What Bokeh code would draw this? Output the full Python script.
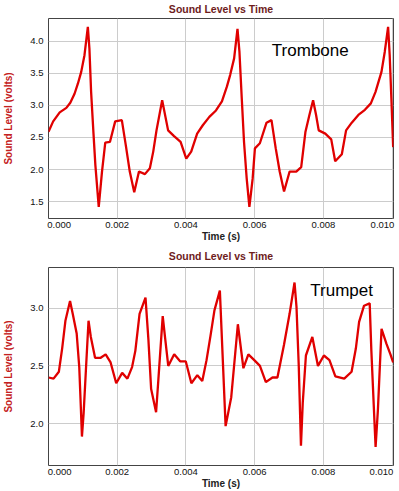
from bokeh.plotting import figure
from bokeh.models import Range1d, FixedTicker, Label
from bokeh.layouts import column
from bokeh.embed import file_html
from bokeh.resources import INLINE

# ---------------- data ----------------
trombone_time_ms = [0, 0.136, 0.326, 0.519, 0.634, 0.758, 0.857, 0.952, 1.047, 1.145,
                    1.191, 1.240, 1.306, 1.364, 1.462, 1.557, 1.652, 1.788, 1.941, 2.134,
                    2.249, 2.365, 2.495, 2.633, 2.806, 2.950, 3.048, 3.143, 3.308, 3.481,
                    3.654, 3.844, 4.009, 4.153, 4.326, 4.490, 4.681, 4.874, 5.047, 5.191,
                    5.286, 5.402, 5.500, 5.557, 5.624, 5.690, 5.768, 5.846, 5.941, 6.007,
                    6.151, 6.345, 6.489, 6.613, 6.728, 6.855, 7.017, 7.210, 7.354, 7.478,
                    7.593, 7.700, 7.787, 7.864, 8.055, 8.228, 8.343, 8.536, 8.660, 8.825,
                    9.018, 9.208, 9.381, 9.517, 9.690, 9.785, 9.883, 9.929, 9.978, 10.03]
trombone_volts = [2.59, 2.75, 2.89, 2.96, 3.04, 3.18, 3.34, 3.52, 3.78, 4.22,
                  3.88, 3.21, 2.59, 2.07, 1.42, 1.97, 2.42, 2.43, 2.75, 2.77,
                  2.38, 1.97, 1.65, 1.97, 1.93, 2.02, 2.28, 2.61, 3.08, 2.61,
                  2.52, 2.43, 2.17, 2.28, 2.56, 2.69, 2.82, 2.92, 3.06, 3.29,
                  3.47, 3.73, 4.19, 3.83, 3.11, 2.43, 1.86, 1.42, 1.86, 2.33,
                  2.41, 2.73, 2.77, 2.33, 1.97, 1.66, 1.97, 1.97, 2.04, 2.59,
                  2.85, 3.08, 2.85, 2.61, 2.56, 2.47, 2.13, 2.24, 2.61, 2.73,
                  2.85, 2.93, 3.03, 3.21, 3.52, 3.83, 4.22, 3.78, 3.11, 2.35]

trumpet_time_ms = [0, 0.147, 0.302, 0.397, 0.492, 0.627, 0.705, 0.820, 0.895, 0.944,
                   0.973, 1.022, 1.088, 1.165, 1.232, 1.355, 1.519, 1.663, 1.807, 1.971,
                   2.144, 2.296, 2.432, 2.527, 2.650, 2.823, 2.909, 2.987, 3.131, 3.197,
                   3.324, 3.390, 3.485, 3.658, 3.830, 3.994, 4.158, 4.331, 4.475, 4.599,
                   4.714, 4.829, 4.987, 5.154, 5.318, 5.511, 5.672, 5.816, 5.988, 6.153,
                   6.325, 6.518, 6.662, 6.852, 7.016, 7.160, 7.217, 7.283, 7.347, 7.399,
                   7.491, 7.678, 7.842, 8.014, 8.176, 8.348, 8.607, 8.820, 8.944, 9.039,
                   9.183, 9.347, 9.396, 9.471, 9.519, 9.586, 9.692, 9.836, 9.951, 10.03]
trumpet_volts = [2.40, 2.39, 2.45, 2.65, 2.89, 3.06, 2.95, 2.78, 2.49, 2.12,
                 1.89, 2.09, 2.46, 2.89, 2.75, 2.57, 2.57, 2.60, 2.53, 2.35,
                 2.44, 2.39, 2.49, 2.63, 2.95, 3.09, 2.72, 2.30, 2.10, 2.38,
                 2.93, 2.75, 2.50, 2.60, 2.54, 2.54, 2.35, 2.42, 2.37, 2.55,
                 2.76, 2.98, 3.15, 1.98, 2.23, 2.86, 2.48, 2.60, 2.55, 2.50,
                 2.36, 2.40, 2.40, 2.68, 2.95, 3.22, 3.01, 2.50, 1.81, 2.18,
                 2.59, 2.75, 2.50, 2.59, 2.55, 2.41, 2.39, 2.45, 2.65, 2.88,
                 3.02, 3.04, 2.63, 2.12, 1.80, 2.12, 2.82, 2.69, 2.60, 2.53]

x_ticks = [0.0, 0.002, 0.004, 0.006, 0.008, 0.010]
x_tick_labels = ["0.000", "0.002", "0.004", "0.006", "0.008", "0.010"]
trombone_y_ticks = [1.5, 2.0, 2.5, 3.0, 3.5, 4.0]
trombone_y_labels = ["1.5", "2.0", "2.5", "3.0", "3.5", "4.0"]
trumpet_y_ticks = [2.0, 2.5, 3.0]
trumpet_y_labels = ["2.0", "2.5", "3.0"]

title_text = "Sound Level vs Time"
x_label = "Time (s)"
y_label = "Sound Level (volts)"

# ---------------- styling ----------------
FONT = "Liberation Sans"
LINE_RED = "#e00000"
TITLE_COL = "#6e1c1c"
YLAB_COL = "#c42020"
GRID_COL = "#cccccc"


def make_plot(t_ms, volts, y_ticks, y_labels, y_range, name, name_pos, end_label_pos,
              height, left, right, top, bottom, title_standoff):
    t = [v / 1000.0 for v in t_ms]
    p = figure(width=399, height=height, output_backend="svg", toolbar_location=None,
               x_range=Range1d(0.0, 0.01004), y_range=Range1d(*y_range),
               min_border_left=left, min_border_right=right,
               min_border_top=top, min_border_bottom=bottom)
    p.background_fill_color = "white"
    p.border_fill_color = "white"
    p.outline_line_color = "#444444"
    p.outline_line_width = 1

    p.title.text = title_text
    p.title.align = "center"
    p.title.vertical_align = "top"
    p.title.text_font = FONT
    p.title.text_font_size = "10.5px"
    p.title.text_font_style = "bold"
    p.title.text_color = TITLE_COL
    p.title.standoff = title_standoff

    # The reference nudges the first and last x labels inward so they stay
    # inside the frame's width; the label slots are moved, the grid stays true.
    label_pos = [end_label_pos[0]] + x_ticks[1:-1] + [end_label_pos[1]]
    p.xaxis.ticker = FixedTicker(ticks=label_pos)
    p.xaxis.major_label_overrides = {label_pos[i]: x_tick_labels[i] for i in range(len(x_ticks))}
    p.xgrid.ticker = FixedTicker(ticks=x_ticks)
    p.yaxis.ticker = FixedTicker(ticks=y_ticks)
    p.yaxis.major_label_overrides = {y_ticks[i]: y_labels[i] for i in range(len(y_ticks))}

    for ax in (p.xaxis[0], p.yaxis[0]):
        ax.axis_line_color = None
        ax.major_tick_line_color = None
        ax.minor_tick_line_color = None
        ax.major_tick_out = 0
        ax.major_tick_in = 0
        ax.major_label_text_font = FONT
        ax.major_label_text_font_size = "9.5px"
        ax.major_label_text_color = "#111111"
        ax.axis_label_text_font = FONT
        ax.axis_label_text_font_style = "bold"
        ax.axis_label_text_font_size = "10px"

    p.xaxis.major_label_standoff = 3
    p.xaxis.axis_label = x_label
    p.xaxis.axis_label_text_color = "#222222"
    p.xaxis.axis_label_standoff = 0

    p.yaxis.major_label_standoff = 5
    p.yaxis.axis_label = y_label
    p.yaxis.axis_label_text_color = YLAB_COL
    p.yaxis.axis_label_standoff = 13

    p.xgrid.grid_line_color = GRID_COL
    p.ygrid.grid_line_color = GRID_COL

    p.line(t, volts, line_color=LINE_RED, line_width=2.3)

    p.add_layout(Label(x=name_pos[0], y=name_pos[1], text=name, text_align="left",
                       text_baseline="middle", text_font=FONT, text_font_size="17px",
                       text_color="black"))
    return p


p1 = make_plot(trombone_time_ms, trombone_volts, trombone_y_ticks, trombone_y_labels,
               (1.24, 4.35), "Trombone", (0.00650, 3.86), (0.00031, 0.00972),
               height=245, left=45, right=5, top=18, bottom=27, title_standoff=4)
p2 = make_plot(trumpet_time_ms, trumpet_volts, trumpet_y_ticks, trumpet_y_labels,
               (1.64, 3.35), "Trumpet", (0.00762, 3.15), (0.000325, 0.00969),
               height=246, left=44, right=6, top=22, bottom=25, title_standoff=8)

layout = column(p1, p2, spacing=0)
open("out.html", "w").write(file_html(layout, INLINE))
